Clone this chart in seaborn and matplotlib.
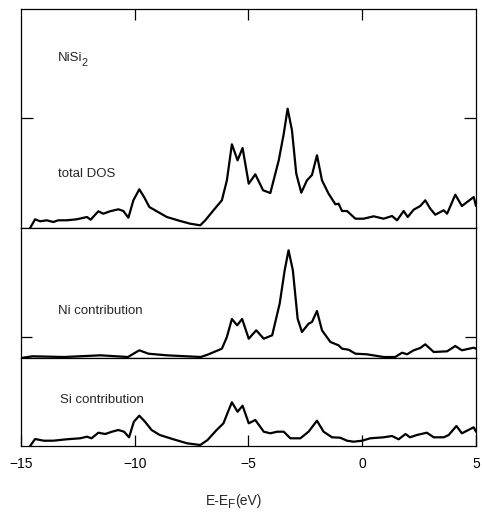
import matplotlib
matplotlib.use("Agg")
import matplotlib.pyplot as plt
import seaborn as sns
import pandas as pd

# ---- data (arbitrary DOS units) ----
e_total = [-14.6, -14.38, -14.16, -13.87, -13.58, -13.36, -12.99, -12.55, -12.1, -11.94,
           -11.6, -11.38, -11.09, -10.72, -10.5, -10.28, -10.06, -9.8, -9.59, -9.36,
           -9.03, -8.59, -8.0, -7.56, -7.12, -6.9, -6.54, -6.17, -5.95, -5.73,
           -5.48, -5.26, -4.99, -4.70, -4.36, -4.04, -3.67, -3.45, -3.28, -3.09,
           -2.9, -2.68, -2.43, -2.21, -1.99, -1.77, -1.48, -1.18, -1.04, -0.89,
           -0.67, -0.3, 0.06, 0.5, 0.94, 1.31, 1.53, 1.82, 2.0, 2.26,
           2.55, 2.77, 2.99, 3.21, 3.58, 3.73, 4.09, 4.38, 4.9, 5.0]
dos_total = [0, 8.7, 6.7, 7.7, 6, 7.7, 7.7, 8.7, 11, 8.3,
             16.7, 14.3, 16.7, 18.7, 17, 10.3, 27.7, 38.7, 31, 21,
             16.7, 11, 7, 4.3, 2.7, 7.7, 17.7, 27.7, 47.7, 83.7,
             67.7, 80, 44.3, 53.7, 37.7, 35, 67.7, 94.3, 119.3, 97.7,
             54.3, 35.3, 47.7, 53, 72.7, 47.7, 34.3, 23.7, 24.3, 17,
             17, 9.3, 9.3, 11.7, 9.3, 12, 7.7, 17, 11, 18.3,
             22, 27.7, 19.3, 13.3, 17.7, 14.3, 33.3, 22, 31, 22]

e_ni = [-15, -14.5, -13.1, -11.5, -10.3, -9.8, -9.4, -8.6, -7.1, -6.8,
        -6.17, -5.95, -5.73, -5.5, -5.28, -4.99, -4.66, -4.33, -3.96, -3.63,
        -3.41, -3.24, -3.05, -2.84, -2.65, -2.36, -2.21, -1.99, -1.77, -1.4,
        -1.04, -0.89, -0.6, -0.3, 0.2, 0.94, 1.45, 1.75, 1.97, 2.26,
        2.55, 2.77, 3.14, 3.73, 4.09, 4.38, 4.9, 5.0]
dos_ni = [0, 1.7, 1, 2.7, 1, 7.7, 4.3, 2.7, 1, 3.3,
          9.3, 21, 39, 32.7, 39, 19.3, 27.7, 19.3, 22.7, 54.3,
          87.7, 107.7, 87.7, 39.3, 26, 34.3, 36, 47, 27.7, 16,
          12.7, 9.3, 8.3, 4.3, 3.7, 1, 1, 5.3, 3.7, 7.7,
          10, 13.7, 6, 6.7, 12, 7.7, 10.3, 9.3]

e_si = [-14.6, -14.38, -14.0, -13.58, -13.0, -12.4, -12.1, -11.9, -11.6, -11.3,
        -11.0, -10.72, -10.47, -10.25, -10.04, -9.8, -9.55, -9.26, -8.9, -8.3,
        -7.7, -7.12, -6.8, -6.4, -6.1, -5.9, -5.73, -5.48, -5.26, -4.99,
        -4.7, -4.33, -4.04, -3.74, -3.45, -3.16, -2.72, -2.36, -1.99, -1.7,
        -1.33, -0.97, -0.67, -0.38, -0.01, 0.35, 0.94, 1.31, 1.6, 1.9,
        2.1, 2.4, 2.84, 3.14, 3.58, 3.8, 4.14, 4.38, 4.9, 5.0]
dos_si = [0, 7, 5.3, 5.3, 6.7, 7.7, 9.3, 7.7, 13.3, 12,
          14.3, 16, 14.3, 8.7, 24.3, 30.3, 24.3, 16, 11, 6.7,
          2.7, 1, 6, 16, 22.7, 34.3, 43.7, 34.3, 40.3, 22.7,
          26, 14.3, 12.7, 14.3, 14.3, 7.7, 7.7, 14.3, 25.3, 14.3,
          8.7, 8.3, 5.3, 4.3, 5.3, 7.7, 8.7, 10, 6.7, 12,
          8.7, 11, 13.3, 8.7, 8.7, 11, 20, 12.7, 18.7, 14.3]

x_ticks = [-15, -10, -5, 0, 5]
x_tick_labels = ["\u221215", "\u221210", "\u22125", "0", "5"]
inner_ticks = [-10, -5, 0]

panel_labels = ["total DOS", "Ni contribution", "Si contribution"]
title_main, title_sub = "NiSi", "2"
xlabel_parts = ["E-E", "F", "(eV)"]

# ---- style ----
sns.set_style("ticks")
plt.rcParams['font.family'] = ['Liberation Sans', 'DejaVu Sans']
plt.rcParams['axes.edgecolor'] = 'black'
plt.rcParams['axes.linewidth'] = 0.9

W, H = 482, 512
fig = plt.figure(figsize=(W / 100, H / 100), dpi=100)


def add_panel(top, bottom):
    return fig.add_axes([21 / W, (H - bottom) / H, 455 / W, (bottom - top) / H])


ax1 = add_panel(9, 228)
ax2 = add_panel(228, 358)
ax3 = add_panel(358, 446)

df_total = pd.DataFrame({"E": e_total, "DOS": dos_total})
df_ni = pd.DataFrame({"E": e_ni, "DOS": dos_ni})
df_si = pd.DataFrame({"E": e_si, "DOS": dos_si})

for ax, df, ylim in [(ax1, df_total, 219), (ax2, df_ni, 130), (ax3, df_si, 88)]:
    sns.lineplot(data=df, x="E", y="DOS", ax=ax, color="black", linewidth=1.6,
                 sort=False, estimator=None)
    ax.set_xlim(-15, 5)
    ax.set_ylim(0, ylim)
    ax.set_xlabel("")
    ax.set_ylabel("")
    ax.tick_params(direction="in", length=8, width=0.9, colors="black")

# panel 1
ax1.xaxis.set_ticks_position("top")
ax1.set_xticks(inner_ticks)
ax1.set_xticklabels([])
ax1.yaxis.set_ticks_position("both")
ax1.set_yticks([110])
ax1.set_yticklabels([])
ax1.tick_params(axis="y", length=8.5)

# panel 2
ax2.set_xticks([])
ax2.yaxis.set_ticks_position("both")
ax2.set_yticks([21])
ax2.set_yticklabels([])

# panel 3
ax3.xaxis.set_ticks_position("bottom")
ax3.set_xticks(x_ticks)
ax3.set_xticklabels(x_tick_labels, fontsize=10)
ax3.tick_params(axis="x", pad=8)
ax3.set_yticks([])

fs = 9.5
t_title = ax1.text(-13.37, 167, title_main, fontsize=fs, va="baseline", ha="left")
ax1.annotate(title_sub, xy=(1, 0), xycoords=t_title, xytext=(-0.6, -3.0),
             textcoords="offset points", fontsize=7.8, va="bottom", ha="left")
ax1.text(-13.37, 51.3, panel_labels[0], fontsize=fs, va="baseline", ha="left")
ax2.text(-13.37, 44.3, panel_labels[1], fontsize=fs, va="baseline", ha="left")
ax3.text(-13.3, 43, panel_labels[2], fontsize=fs, va="baseline", ha="left")

# x label with subscript F
t_e = ax3.annotate(xlabel_parts[0], xy=(206, H - 505), xycoords="figure pixels",
                   fontsize=10, ha="left", va="baseline", annotation_clip=False)
t_f = ax3.annotate(xlabel_parts[1], xy=(1, 0), xycoords=t_e, xytext=(-0.6, -2.0),
                   textcoords="offset points", fontsize=8.5, va="bottom", ha="left",
                   annotation_clip=False)
ax3.annotate(xlabel_parts[2], xy=(1, 0), xycoords=t_f, xytext=(-0.4, 2.0),
             textcoords="offset points", fontsize=10, va="bottom", ha="left",
             annotation_clip=False)

fig.savefig("out.png", dpi=100)
